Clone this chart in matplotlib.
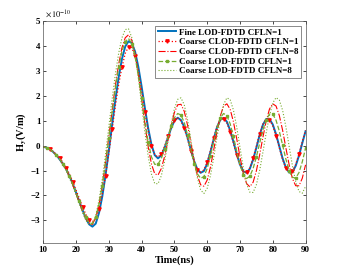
import numpy as np
import matplotlib
matplotlib.use("Agg")
import matplotlib.pyplot as plt

plt.rcParams['font.family'] = ['Liberation Serif', 'DejaVu Serif']
plt.rcParams['mathtext.fontset'] = 'stix'

# time axis (ns), values in units of 1e-10 V/m
time_ns = np.arange(10, 91)

fine_lod_1 = [
    -0.05, -0.08, -0.15, -0.25, -0.38, -0.55, -0.73, -0.95, -1.22, -1.53,
    -1.88, -2.24, -2.59, -2.92, -3.16, -3.25, -3.13, -2.70, -2.04, -1.18,
    -0.20, 0.84, 1.85, 2.75, 3.48, 3.98, 4.19, 4.12, 3.78, 3.16,
    2.37, 1.51, 0.70, 0.04, -0.38, -0.51, -0.39, -0.09, 0.31, 0.70,
    1.00, 1.12, 1.03, 0.75, 0.33, -0.16, -0.61, -0.95, -1.09, -1.02,
    -0.72, -0.25, 0.27, 0.74, 1.04, 1.11, 0.96, 0.62, 0.16, -0.33,
    -0.76, -1.03, -1.09, -0.93, -0.56, -0.08, 0.43, 0.84, 1.07, 1.07,
    0.85, 0.46, -0.03, -0.51, -0.88, -1.08, -1.06, -0.81, -0.40, 0.10,
    0.58]

coarse_clod_1 = [
    -0.05, -0.08, -0.14, -0.23, -0.35, -0.50, -0.67, -0.88, -1.14, -1.44,
    -1.78, -2.12, -2.45, -2.76, -2.98, -3.05, -2.93, -2.55, -1.95, -1.20,
    -0.30, 0.65, 1.60, 2.45, 3.15, 3.70, 3.97, 3.93, 3.60, 3.00,
    2.20, 1.35, 0.60, 0.00, -0.36, -0.46, -0.32, -0.02, 0.37, 0.74,
    1.01, 1.10, 0.99, 0.69, 0.26, -0.22, -0.65, -0.96, -1.07, -0.97,
    -0.66, -0.19, 0.32, 0.77, 1.04, 1.09, 0.92, 0.56, 0.10, -0.39,
    -0.80, -1.04, -1.07, -0.89, -0.50, -0.02, 0.48, 0.87, 1.07, 1.04,
    0.80, 0.40, -0.09, -0.56, -0.91, -1.07, -1.03, -0.75, -0.33, 0.16,
    0.62]

coarse_clod_8 = [
    -0.05, -0.08, -0.15, -0.25, -0.38, -0.55, -0.74, -0.97, -1.25, -1.57,
    -1.92, -2.28, -2.62, -2.93, -3.13, -3.16, -2.89, -2.36, -1.60, -0.66,
    0.37, 1.42, 2.42, 3.27, 3.93, 4.33, 4.45, 4.23, 3.68, 2.86,
    1.88, 0.87, -0.04, -0.74, -1.13, -1.18, -0.92, -0.44, 0.18, 0.81,
    1.33, 1.64, 1.66, 1.38, 0.83, 0.13, -0.59, -1.20, -1.57, -1.63,
    -1.38, -0.86, -0.16, 0.56, 1.19, 1.59, 1.68, 1.46, 0.96, 0.28,
    -0.45, -1.09, -1.52, -1.65, -1.47, -1.01, -0.37, 0.34, 0.99, 1.47,
    1.68, 1.59, 1.21, 0.62, -0.09, -0.77, -1.32, -1.61, -1.61, -1.31,
    -0.77]

coarse_lod_1 = [
    -0.05, -0.08, -0.14, -0.24, -0.37, -0.53, -0.72, -0.95, -1.22, -1.53,
    -1.88, -2.23, -2.57, -2.88, -3.09, -3.13, -2.87, -2.35, -1.61, -0.69,
    0.31, 1.35, 2.31, 3.15, 3.79, 4.18, 4.30, 4.09, 3.57, 2.81,
    1.90, 0.97, 0.15, -0.45, -0.75, -0.74, -0.52, -0.13, 0.33, 0.78,
    1.12, 1.29, 1.23, 0.93, 0.43, -0.16, -0.72, -1.13, -1.31, -1.24,
    -0.92, -0.41, 0.17, 0.71, 1.12, 1.29, 1.21, 0.88, 0.37, -0.22,
    -0.77, -1.16, -1.32, -1.23, -0.92, -0.45, 0.10, 0.63, 1.04, 1.27,
    1.27, 1.02, 0.58, 0.02, -0.54, -1.01, -1.27, -1.30, -1.08, -0.65,
    -0.10]

coarse_lod_8 = [
    -0.05, -0.08, -0.15, -0.26, -0.40, -0.57, -0.77, -1.01, -1.30, -1.63,
    -1.98, -2.35, -2.70, -3.00, -3.18, -3.14, -2.81, -2.19, -1.35, -0.34,
    0.76, 1.86, 2.87, 3.71, 4.33, 4.66, 4.69, 4.34, 3.66, 2.71,
    1.63, 0.54, -0.42, -1.14, -1.52, -1.53, -1.21, -0.63, 0.11, 0.86,
    1.48, 1.86, 1.92, 1.64, 1.05, 0.26, -0.57, -1.29, -1.78, -1.92,
    -1.71, -1.20, -0.48, 0.34, 1.09, 1.65, 1.92, 1.85, 1.43, 0.75,
    -0.07, -0.88, -1.52, -1.87, -1.88, -1.57, -1.00, -0.26, 0.52, 1.21,
    1.71, 1.93, 1.83, 1.42, 0.76, -0.03, -0.81, -1.45, -1.84, -1.91,
    -1.64]

labels = ['Fine LOD-FDTD CFLN=1', 'Coarse CLOD-FDTD CFLN=1',
          'Coarse CLOD-FDTD CFLN=8', 'Coarse LOD-FDTD CFLN=1',
          'Coarse LOD-FDTD CFLN=8']

# marker spots (indices into time_ns), roughly every 2.4 ns
red_marks = [2, 5, 7, 9, 12, 14, 17, 19, 21, 24, 26, 28, 31, 33, 36, 38, 40,
             43, 45, 47, 50, 52, 55, 57, 59, 62, 64, 66, 69, 71, 74, 76, 78]
green_marks = [1, 4, 6, 8, 11, 13, 16, 18, 20, 23, 25, 27, 30, 32, 35, 37,
               39, 42, 44, 46, 49, 51, 54, 56, 58, 61, 63, 65, 68, 70, 73,
               75, 77, 80]

blue = '#0072BD'
red = '#FF0000'
green = '#77AC30'

fig = plt.figure(figsize=(3.38, 2.74), dpi=100)
ax = fig.add_axes([0.128, 0.112, 0.776, 0.811])

ax.plot(time_ns, fine_lod_1, color=blue, lw=1.4, label=labels[0])
ax.plot(time_ns, coarse_clod_1, color=red, lw=0.9, ls=':', marker='v',
        markersize=2.4, markevery=red_marks, label=labels[1])
ax.plot(time_ns, coarse_clod_8, color=red, lw=0.8, ls='-.', label=labels[2])
ax.plot(time_ns, coarse_lod_1, color=green, lw=0.9, ls='--', marker='s',
        markersize=2.0, markevery=green_marks, label=labels[3])
ax.plot(time_ns, coarse_lod_8, color=green, lw=0.8, ls=':', label=labels[4])

ax.set_xlim(10, 90)
ax.set_ylim(-3.92, 5)
ax.set_xticks(range(10, 91, 10))
ax.set_yticks(range(-3, 6))
ax.tick_params(direction='in', length=2.5, width=0.5, labelsize=6.5,
               top=True, right=True, pad=2)
for lab in ax.get_xticklabels() + ax.get_yticklabels():
    lab.set_fontweight('bold')
for sp in ax.spines.values():
    sp.set_linewidth(0.5)
    sp.set_color('#555555')

ax.text(0.005, 1.005, r'$\times\,10^{-10}$', transform=ax.transAxes,
        fontsize=6, ha='left', va='bottom')

ax.set_xlabel('Time(ns)', fontsize=7.5, fontweight='bold', labelpad=1)
ax.set_ylabel(r'$\mathbf{H_y}$(V/m)', fontsize=7.5, fontweight='bold',
              labelpad=2)

leg = ax.legend(loc='upper right', frameon=True, fancybox=False,
                handlelength=2.0, handletextpad=0.3, borderpad=0.3,
                labelspacing=0.15, borderaxespad=0.5,
                prop={'weight': 'bold', 'size': 6.5})
leg.get_frame().set_edgecolor('#333333')
leg.get_frame().set_linewidth(0.5)

fig.savefig('out.png', dpi=100)
